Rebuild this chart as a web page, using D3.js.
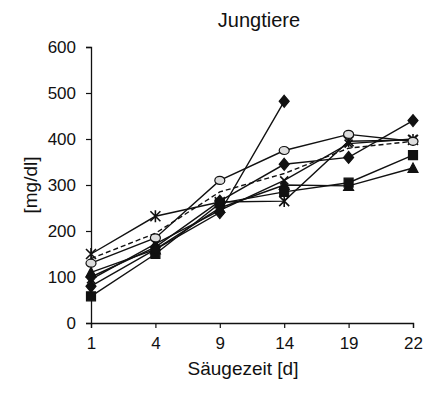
<!DOCTYPE html>
<html>
<head>
<meta charset="utf-8">
<script src="https://cdn.jsdelivr.net/npm/d3@7"></script>
<style>
  body { margin: 0; background: #fff; }
  text { font-family: "Liberation Sans", Arial, sans-serif; fill: #111; }
  .line { fill: none; stroke: #111; stroke-width: 1.4; }
</style>
</head>
<body>
<div id="chart"></div>
<script>
// Säugezeit in days (categories)
var days = ["1", "4", "9", "14", "19", "22"];
var yTicks = [0, 100, 200, 300, 400, 500, 600];

// one array per animal / group, mg/dl
var diamondA = [80, 160, 240, 482, null, null];
var diamondB = [100, 165, 265, 345, 360, 440];
var squares = [58, 150, 260, 285, 305, 365];
var triangles = [110, 160, 250, 300, 298, 337];
var stars = [150, 232, 263, 265, 395, 398];
var circles = [130, 185, 310, 375, 410, 395];
var crosses = [95, 172, 245, 310, 390, 400];
var dashed = [140, 195, 285, 325, 380, 395];

var series = [
    {values: dashed, marker: "none", dash: "5,3"},
    {values: crosses, marker: "x"},
    {values: triangles, marker: "triangle"},
    {values: squares, marker: "square"},
    {values: stars, marker: "star"},
    {values: diamondB, marker: "diamond"},
    {values: circles, marker: "circle"},
    {values: diamondA, marker: "diamond"}
];

var width = 423, height = 394;
var svg = d3.select("#chart").append("svg")
    .attr("width", width)
    .attr("height", height);

var x = d3.scalePoint().domain(days).range([91, 413]);
var y = d3.scaleLinear().domain([0, 600]).range([323, 47]);

// axes
svg.append("g")
    .attr("transform", "translate(0,323)")
    .call(d3.axisBottom(x).tickSize(5).tickPadding(9))
    .call(function (g) {
        g.select(".domain").attr("stroke", "#111").attr("stroke-width", 1.3);
        g.selectAll(".tick line").attr("stroke", "#111").attr("stroke-width", 1.2);
        g.selectAll("text").style("font-size", "17px");
    });

svg.append("g")
    .attr("transform", "translate(91,0)")
    .call(d3.axisLeft(y).tickValues(yTicks).tickSize(5).tickPadding(10))
    .call(function (g) {
        g.select(".domain").attr("stroke", "#111").attr("stroke-width", 1.3);
        g.selectAll(".tick line").attr("stroke", "#111").attr("stroke-width", 1.2);
        g.selectAll("text").style("font-size", "17px");
    });

// titles
svg.append("text")
    .attr("x", 259).attr("y", 27)
    .attr("text-anchor", "middle")
    .style("font-size", "20px")
    .text("Jungtiere");

svg.append("text")
    .attr("x", 243).attr("y", 375)
    .attr("text-anchor", "middle")
    .style("font-size", "19px")
    .text("Säugezeit [d]");

svg.append("text")
    .attr("transform", "translate(37,185) rotate(-90)")
    .attr("text-anchor", "middle")
    .style("font-size", "19px")
    .text("[mg/dl]");

// lines
var line = d3.line()
    .defined(function (d) { return d != null; })
    .x(function (d, i) { return x(days[i]); })
    .y(function (d) { return y(d); });

svg.selectAll(".line")
    .data(series)
    .enter()
    .append("path")
    .attr("class", "line")
    .attr("stroke-dasharray", function (d) { return d.dash || null; })
    .attr("d", function (d) { return line(d.values); });

// marker shapes
function markerPath(type) {
    if (type === "diamond") return "M0,-6L5,0L0,6L-5,0Z";
    if (type === "square") return "M-4.5,-4.5H4.5V4.5H-4.5Z";
    if (type === "triangle") return "M0,-5L5,4.5H-5Z";
    if (type === "circle") return "M-5,0A5,4 0 1,0 5,0A5,4 0 1,0 -5,0Z";
    if (type === "x") return "M-4,-4L4,4M4,-4L-4,4";
    if (type === "star") return "M-5,-5L5,5M5,-5L-5,5M0,-6V6";
    return "";
}

series.forEach(function (s) {
    if (s.marker === "none") return;
    var pts = s.values.map(function (v, i) { return {v: v, day: days[i]}; })
        .filter(function (p) { return p.v != null; });
    svg.selectAll(null)
        .data(pts)
        .enter()
        .append("path")
        .attr("transform", function (p) { return "translate(" + x(p.day) + "," + y(p.v) + ")"; })
        .attr("d", markerPath(s.marker))
        .attr("fill", function () {
            if (s.marker === "x" || s.marker === "star") return "none";
            if (s.marker === "circle") return "#ddd";
            return "#111";
        })
        .attr("stroke", "#111")
        .attr("stroke-width", s.marker === "star" || s.marker === "x" ? 1.6 : 1.2);
});
</script>
</body>
</html>
